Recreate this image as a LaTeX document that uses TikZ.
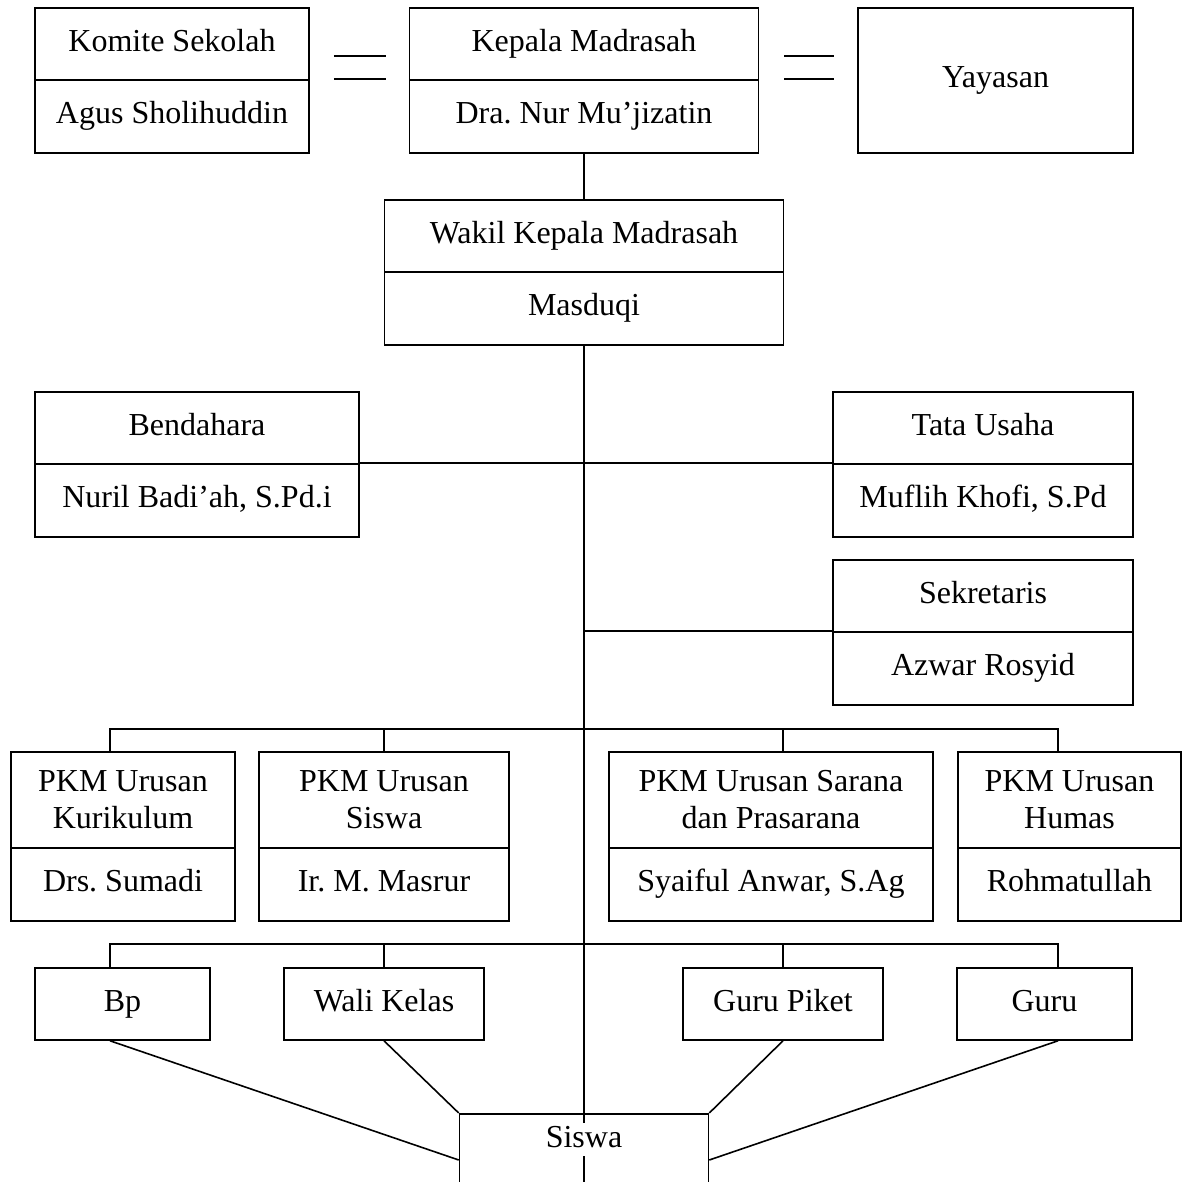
\documentclass[tikz,border=0pt]{standalone}
\usepackage{fontspec}
\setmainfont{Liberation Serif}
\begin{document}
\begin{tikzpicture}[x=1pt, y=1pt, line width=1.6pt,
    box/.style={draw, inner sep=0pt, align=center, text height=22pt, text depth=7pt,
      font=\fontsize{32}{37}\selectfont\frenchspacing},
    titlebox/.style={box, minimum height=72pt},
    namebox/.style={box, minimum height=73pt},
    pkmbox/.style={box, minimum height=96pt, text height=, text depth=}]
    \useasboundingbox (0,0) rectangle (1183,1182);
    \clip (0,0) rectangle (1183,1182);

    % top row
    \node[titlebox, minimum width=274pt] (komite) at (172,1138) {Komite Sekolah};
    \node[namebox, minimum width=274pt] (komiteN) at (172,1065.5) {Agus Sholihuddin};
    \node[titlebox, minimum width=349pt] (kepala) at (584,1138) {Kepala Madrasah};
    \node[namebox, minimum width=349pt] (kepalaN) at (584,1065.5) {Dra. Nur Mu’jizatin};
    \node[box, minimum width=275pt, minimum height=145pt] (yayasan) at (995.5,1101.5) {Yayasan};

    \node[titlebox, minimum width=399pt] (wakil) at (584,946) {Wakil Kepala Madrasah};
    \node[namebox, minimum width=399pt] (wakilN) at (584,873.5) {Masduqi};

    \node[titlebox, minimum width=324pt] (bendahara) at (197,754) {Bendahara};
    \node[namebox, minimum width=324pt] (bendaharaN) at (197,681.5) {Nuril Badi’ah, S.Pd.i};
    \node[titlebox, minimum width=300pt] (tatausaha) at (983,754) {Tata Usaha};
    \node[namebox, minimum width=300pt] (tatausahaN) at (983,681.5) {Muflih Khofi, S.Pd};
    \node[titlebox, minimum width=300pt] (sekretaris) at (983,586) {Sekretaris};
    \node[namebox, minimum width=300pt] (sekretarisN) at (983,513.5) {Azwar Rosyid};

    % PKM row
    \node[pkmbox, minimum width=224pt] (kurikulum) at (123,382) {PKM Urusan\\Kurikulum};
    \node[namebox, minimum width=224pt] (kurikulumN) at (123,297.5) {Drs. Sumadi};
    \node[pkmbox, minimum width=250pt] (kesiswaan) at (384,382) {PKM Urusan\\Siswa};
    \node[namebox, minimum width=250pt] (kesiswaanN) at (384,297.5) {Ir. M. Masrur};
    \node[pkmbox, minimum width=324pt] (sarana) at (771,382) {PKM Urusan Sarana\\dan Prasarana};
    \node[namebox, minimum width=324pt] (saranaN) at (771,297.5) {Syaiful Anwar, S.Ag};
    \node[pkmbox, minimum width=223pt] (humas) at (1069.5,382) {PKM Urusan\\Humas};
    \node[namebox, minimum width=223pt] (humasN) at (1069.5,297.5) {Rohmatullah};

    % bottom row
    \node[titlebox, minimum width=175pt] (bp) at (122.5,178) {Bp};
    \node[titlebox, minimum width=200pt] (walikelas) at (384,178) {Wali Kelas};
    \node[titlebox, minimum width=200pt] (gurupiket) at (783,178) {Guru Piket};
    \node[titlebox, minimum width=175pt] (guru) at (1044.5,178) {Guru};
    \node[box, minimum width=249pt, minimum height=120pt, anchor=north] (siswa) at (584,69) {};

    \coordinate (d1) at (110,453);
    \coordinate (d2) at (384,453);
    \coordinate (d3) at (783,453);
    \coordinate (d4) at (1058,453);
    \coordinate (e1) at (110,238);
    \coordinate (e2) at (384,238);
    \coordinate (e3) at (783,238);
    \coordinate (e4) at (1058,238);

    % double lines
    \draw ([xshift=24pt,yshift=23pt]komiteN.north east) -- ++(52,0);
    \draw ([xshift=24pt]komiteN.north east) -- ++(52,0);
    \draw ([xshift=25pt,yshift=23pt]kepalaN.north east) -- ++(50,0);
    \draw ([xshift=25pt]kepalaN.north east) -- ++(50,0);

    % connectors
    \draw (kepalaN) -- (wakil);
    \draw (wakilN.south) -- (wakilN.south |- siswa.south);
    \draw (bendaharaN.north east) -- (tatausahaN.north west);
    \draw (wakilN.south |- sekretarisN.north) -- (sekretarisN.north west);
    \draw (d1 |- kurikulum.north) |- (d4) -- (d4 |- humas.north);
    \draw (d2) -- (d2 |- kesiswaan.north);
    \draw (d3) -- (d3 |- sarana.north);
    \draw (e1 |- bp.north) |- (e4) -- (e4 |- guru.north);
    \draw (e2) -- (e2 |- walikelas.north);
    \draw (e3) -- (e3 |- gurupiket.north);
    \draw (e1 |- bp.south) -- ([yshift=-47pt]siswa.north west);
    \draw (walikelas.south) -- (siswa.north west);
    \draw (gurupiket.south) -- (siswa.north east);
    \draw (e4 |- guru.south) -- ([yshift=-47pt]siswa.north east);
    \node[box, draw=none, fill=white, inner sep=2pt] (siswaL) at ([yshift=-27pt]siswa.north) {Siswa};
\end{tikzpicture}
\end{document}
